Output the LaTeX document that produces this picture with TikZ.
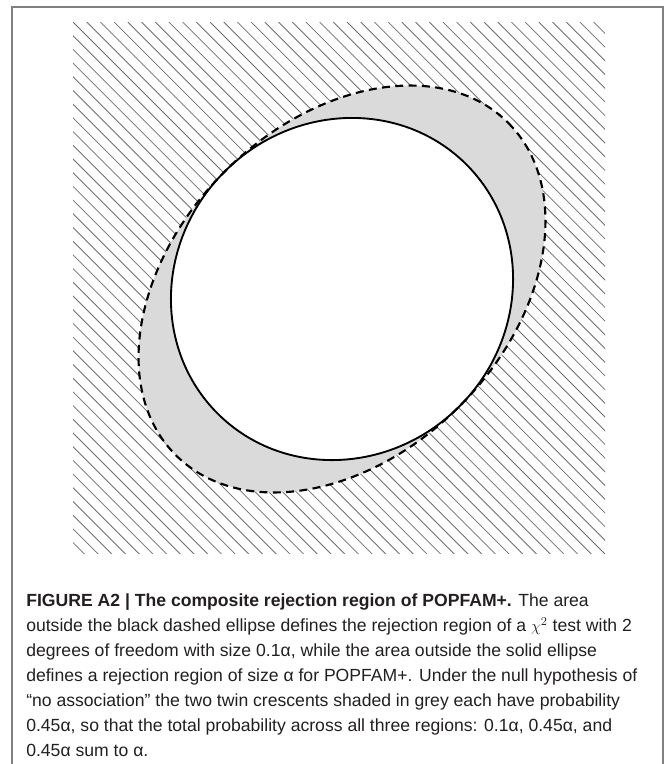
\documentclass[tikz,border=0pt]{standalone}
\usepackage{fontspec}
\setmainfont{Liberation Sans}
\usetikzlibrary{positioning}

\definecolor{framegrey}{RGB}{128,128,128}
\definecolor{hatchgrey}{RGB}{110,110,110}
\definecolor{crescent}{RGB}{218,218,218}
\definecolor{captext}{RGB}{35,31,32}

\tikzset{
  hatchline/.style={hatchgrey, line width=0.6pt},
  solidell/.style={black, line width=1.4pt},
  dashedell/.style={black, line width=1.6pt, dash pattern=on 6pt off 4pt},
  captionbox/.style={anchor=north west, inner sep=0pt, align=left, text=captext,
    font=\fontsize{13.2pt}{18.75pt}\selectfont}
}

\begin{document}
\begin{tikzpicture}[x=0.75pt,y=0.75pt,yscale=-1,xscale=1]

\useasboundingbox (0,0) rectangle (670,764);
\draw[framegrey, line width=1.2pt] (12,7) rectangle (663,768);

% hatched square
\begin{scope}
\clip (73,22) rectangle (605,553);
\foreach \i in {-40,...,40}
  \draw[hatchline] (73+\i*13.7,22) -- ++(560,560);
\end{scope}

% dashed ellipse, crescents and solid ellipse
\fill[crescent, rotate around={-45:(342,289)}] (342,289) ellipse (235 and 166);
\fill[white, rotate around={-45:(342,289)}] (342,289) ellipse (176 and 166);
\draw[solidell, rotate around={-45:(342,289)}] (342,289) ellipse (176 and 166);
\draw[dashedell, rotate around={-45:(342,289)}] (342,289) ellipse (235 and 166);

\node[captionbox] (cap) at (26,593) {\textbf{FIGURE A2 | The composite rejection region of POPFAM+.} The area\\
outside the black dashed ellipse defines the rejection region of a $\chi^2$ test with 2\\
degrees of freedom with size 0.1α, while the area outside the solid ellipse\\
defines a rejection region of size α for POPFAM+. Under the null hypothesis of\\
“no association” the two twin crescents shaded in grey each have probability\\
0.45α, so that the total probability across all three regions: 0.1α, 0.45α, and\\
0.45α sum to α.};

\end{tikzpicture}
\end{document}
